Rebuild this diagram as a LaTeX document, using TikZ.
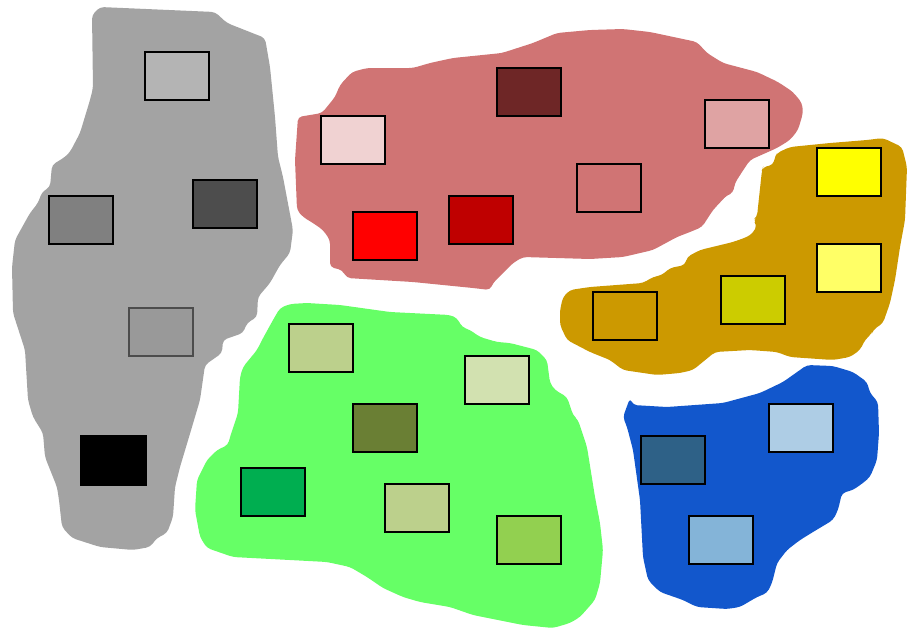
\documentclass[tikz,border=0pt]{standalone}
\usepackage{tikz}
\definecolor{cgray}{HTML}{A3A3A3}
\definecolor{cred}{HTML}{D07474}
\definecolor{corange}{HTML}{CC9900}
\definecolor{cgreen}{HTML}{66FF66}
\definecolor{cblue}{HTML}{1257CC}
\definecolor{g1}{HTML}{B4B4B4}
\definecolor{g2}{HTML}{808080}
\definecolor{g3}{HTML}{4D4D4D}
\definecolor{g4}{HTML}{999999}
\definecolor{r1}{HTML}{F0D2D2}
\definecolor{r2}{HTML}{6E2626}
\definecolor{r3}{HTML}{DFA3A3}
\definecolor{r4}{HTML}{BF0000}
\definecolor{r5}{HTML}{FF0000}
\definecolor{y1}{HTML}{FFFF00}
\definecolor{y2}{HTML}{FFFF66}
\definecolor{y3}{HTML}{CCCC00}
\definecolor{e1}{HTML}{BCD08C}
\definecolor{e2}{HTML}{D2E1B0}
\definecolor{e3}{HTML}{6A7F34}
\definecolor{e4}{HTML}{00AE50}
\definecolor{e5}{HTML}{92D050}
\definecolor{b1}{HTML}{2E6187}
\definecolor{b2}{HTML}{AECDE5}
\definecolor{b3}{HTML}{84B4D8}
\tikzset{
  box/.style={draw=black, line width=2.4pt, inner sep=0pt, minimum width=64pt, minimum height=48pt},
  blob/.style={rounded corners=4pt}
}
\begin{document}
\begin{tikzpicture}[x=1pt,y=-1pt]
\useasboundingbox (0,0) rectangle (909,630);
% gray blob
\fill[cgray, blob] (92,15) -- (100,7) -- (215,12) -- (227,23) -- (265,38) -- (270,67) -- (275,117) -- (278,157) -- (283,177) -- (293,230) -- (290,253) -- (280,265) -- (270,283) -- (258,297) -- (257,317) -- (247,323) -- (243,333) -- (223,340) -- (222,353) -- (205,365) -- (200,400) -- (192,427) -- (180,467) -- (175,487) -- (173,517) -- (167,533) -- (157,538) -- (150,547) -- (133,550) -- (100,547) -- (72,538) -- (62,527) -- (59,500) -- (57,487) -- (45,457) -- (43,433) -- (33,417) -- (28,400) -- (25,350) -- (13,313) -- (12,267) -- (15,240) -- (30,213) -- (38,203) -- (42,192) -- (50,187) -- (52,165) -- (65,157) -- (70,152) -- (80,133) -- (90,100) -- (93,88) -- cycle;
% red blob
\fill[cred, blob] (298,117) -- (322,113) -- (335,97) -- (340,85) -- (352,72) -- (367,68) -- (413,68) -- (430,63) -- (453,58) -- (502,53) -- (533,43) -- (557,33) -- (590,30) -- (623,29) -- (650,32) -- (697,42) -- (707,53) -- (723,63) -- (757,72) -- (778,82) -- (793,92) -- (802,103) -- (803,113) -- (798,130) -- (790,140) -- (777,148) -- (750,160) -- (742,172) -- (735,183) -- (733,193) -- (727,195) -- (713,210) -- (702,227) -- (690,232) -- (677,237) -- (653,250) -- (623,257) -- (590,259) -- (523,257) -- (513,263) -- (493,283) -- (490,290) -- (473,288) -- (413,282) -- (347,278) -- (342,270) -- (330,267) -- (330,240) -- (323,230) -- (313,223) -- (303,217) -- (297,210) -- (295,160) -- cycle;
% orange blob
\fill[corange, blob] (777,153) -- (790,147) -- (830,143) -- (867,140) -- (883,138) -- (902,147) -- (907,167) -- (905,220) -- (900,247) -- (895,280) -- (890,303) -- (883,323) -- (873,330) -- (872,333) -- (865,340) -- (860,350) -- (850,357) -- (833,360) -- (790,357) -- (777,352) -- (750,350) -- (715,352) -- (693,370) -- (680,373) -- (657,375) -- (623,370) -- (610,360) -- (590,352) -- (567,340) -- (560,325) -- (560,310) -- (563,297) -- (570,290) -- (590,287) -- (643,283) -- (653,277) -- (662,275) -- (670,268) -- (685,265) -- (687,257) -- (700,250) -- (733,242) -- (747,237) -- (753,233) -- (757,225) -- (753,220) -- (757,217) -- (758,207) -- (762,170) -- (763,167) -- (773,165) -- (775,157) -- cycle;
% green blob
\fill[cgreen, blob] (280,308) -- (290,304) -- (307,303) -- (340,305) -- (390,312) -- (450,315) -- (457,318) -- (462,327) -- (470,330) -- (480,337) -- (497,342) -- (510,343) -- (537,350) -- (547,360) -- (550,383) -- (555,390) -- (567,397) -- (573,415) -- (578,420) -- (587,447) -- (595,497) -- (600,523) -- (603,550) -- (600,583) -- (595,600) -- (580,617) -- (570,623) -- (553,628) -- (523,625) -- (473,615) -- (450,607) -- (420,602) -- (403,597) -- (383,588) -- (367,577) -- (350,567) -- (327,562) -- (290,560) -- (233,557) -- (207,548) -- (200,537) -- (195,510) -- (197,480) -- (207,460) -- (217,450) -- (228,445) -- (230,437) -- (238,413) -- (240,377) -- (243,367) -- (257,350) -- (262,340) -- (273,320) -- cycle;
% blue blob
\fill[cblue, blob] (630,398) -- (633,405) -- (667,407) -- (723,403) -- (760,393) -- (783,382) -- (807,365) -- (833,366) -- (853,372) -- (867,382) -- (870,393) -- (878,402) -- (879,433) -- (877,460) -- (870,477) -- (863,483) -- (853,490) -- (842,493) -- (838,510) -- (833,520) -- (813,532) -- (800,540) -- (787,550) -- (777,563) -- (772,583) -- (767,593) -- (757,597) -- (740,607) -- (727,609) -- (697,607) -- (683,600) -- (660,592) -- (648,580) -- (643,557) -- (640,500) -- (633,450) -- (627,427) -- (623,417) -- cycle;
% gray boxes
\node[box, fill=g1] (ga) at (177,76) {};
\node[box, fill=g2] (gb) at (81,220) {};
\node[box, fill=g3] (gc) at (225,204) {};
\node[box, fill=g4, draw=black!70, line width=1.2pt] (gd) at (161,332) {};
\node[box, fill=black, draw=black, minimum width=66pt, minimum height=50pt, line width=0pt] (ge) at (113,460) {};
% red boxes
\node[box, fill=r1] (ra) at (353,140) {};
\node[box, fill=r2] (rb) at (529,92) {};
\node[box, fill=r3] (rc) at (737,124) {};
\node[box, fill=cred] (rd) at (609,188) {};
\node[box, fill=r4] (re) at (481,220) {};
\node[box, fill=r5] (rf) at (385,236) {};
% orange boxes
\node[box, fill=y1] (ya) at (849,172) {};
\node[box, fill=y2] (yb) at (849,268) {};
\node[box, fill=y3] (yc) at (753,300) {};
\node[box, fill=corange] (yd) at (625,316) {};
% green boxes
\node[box, fill=e1] (ea) at (321,348) {};
\node[box, fill=e2] (eb) at (497,380) {};
\node[box, fill=e3] (ec) at (385,428) {};
\node[box, fill=e4] (ed) at (273,492) {};
\node[box, fill=e1] (ee) at (417,508) {};
\node[box, fill=e5] (ef) at (529,540) {};
% blue boxes
\node[box, fill=b1] (ba) at (673,460) {};
\node[box, fill=b2] (bb) at (801,428) {};
\node[box, fill=b3] (bc) at (721,540) {};
\end{tikzpicture}
\end{document}
